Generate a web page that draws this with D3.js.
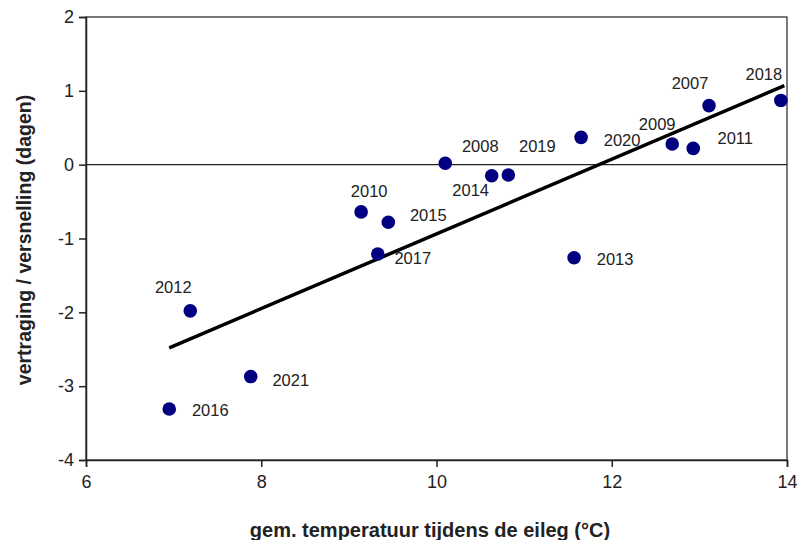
<!DOCTYPE html>
<html>
<head>
<meta charset="utf-8">
<script src="https://cdn.jsdelivr.net/npm/d3@7"></script>
<style>
  body { margin: 0; background: #fff; }
  text { font-family: "Liberation Sans", Arial, sans-serif; }
</style>
</head>
<body>
<svg id="chart"></svg>
<script>
// data
const years = ["2016", "2012", "2021", "2010", "2015", "2017", "2008", "2014",
  "2019", "2013", "2020", "2009", "2011", "2007", "2018"];
const temps = [6.95, 7.19, 7.88, 9.14, 9.45, 9.33, 10.10, 10.63,
  10.82, 11.57, 11.65, 12.69, 12.93, 13.11, 13.93];
const shifts = [-3.31, -1.98, -2.87, -0.64, -0.78, -1.21, 0.02, -0.15,
  -0.14, -1.26, 0.37, 0.28, 0.22, 0.80, 0.87];
const trendX = [6.95, 13.97];
const trendY = [-2.48, 1.07];
const xTicks = [6, 8, 10, 12, 14];
const yTicks = [2, 1, 0, -1, -2, -3, -4];

// where each year label sits relative to its dot (px)
const labelOffset = {
  "2016": [41, 1], "2012": [-17, -24], "2021": [40, 3], "2010": [8, -21],
  "2015": [40, -7], "2017": [35, 4], "2008": [35, -17], "2014": [-21, 14],
  "2019": [29, -29], "2013": [41, 1], "2020": [41, 3], "2009": [-15, -20],
  "2011": [42, -10], "2007": [-19, -23], "2018": [-17, -26]
};

const width = 800, height = 540;
const margin = {top: 17, right: 13, bottom: 80, left: 86};

const svg = d3.select("#chart").attr("width", width).attr("height", height);

const x = d3.scaleLinear().domain([6, 14]).range([margin.left, width - margin.right]);
const y = d3.scaleLinear().domain([-4, 2]).range([height - margin.bottom, margin.top]);

// box around the plot
svg.append("rect")
  .attr("x", x(6)).attr("y", y(2))
  .attr("width", x(14) - x(6)).attr("height", y(-4) - y(2))
  .attr("fill", "none").attr("stroke", "#222").attr("stroke-width", 1.2);

// zero line
svg.append("line")
  .attr("x1", x(6)).attr("x2", x(14))
  .attr("y1", y(0)).attr("y2", y(0))
  .attr("stroke", "#222").attr("stroke-width", 1.2);

const xAxis = svg.append("g")
  .attr("transform", "translate(0," + y(-4) + ")")
  .call(d3.axisBottom(x).tickValues(xTicks).tickFormat(d => String(d))
    .tickSize(7).tickPadding(8));
const yAxis = svg.append("g")
  .attr("transform", "translate(" + x(6) + ",0)")
  .call(d3.axisLeft(y).tickValues(yTicks).tickFormat(d => String(d))
    .tickSize(7).tickPadding(5));

[xAxis, yAxis].forEach(g => {
  g.select(".domain").attr("stroke", "#222").attr("stroke-width", 1.5);
  g.selectAll(".tick line").attr("stroke", "#222").attr("stroke-width", 1.5);
  g.selectAll(".tick text")
    .attr("fill", "#222")
    .style("font-size", "18px")
    .style("font-family", "'Liberation Sans', Arial, sans-serif");
});

// trend line
svg.append("line")
  .attr("x1", x(trendX[0])).attr("y1", y(trendY[0]))
  .attr("x2", x(trendX[1])).attr("y2", y(trendY[1]))
  .attr("stroke", "#000").attr("stroke-width", 3.5);

const points = years.map((yr, i) => ({year: yr, t: temps[i], s: shifts[i]}));

svg.append("g").selectAll("circle")
  .data(points)
  .enter()
  .append("circle")
  .attr("cx", d => x(d.t))
  .attr("cy", d => y(d.s))
  .attr("r", 6.8)
  .attr("fill", "#000080");

svg.append("g").selectAll("text")
  .data(points)
  .enter()
  .append("text")
  .attr("x", d => x(d.t) + labelOffset[d.year][0])
  .attr("y", d => y(d.s) + labelOffset[d.year][1])
  .attr("text-anchor", "middle")
  .attr("dominant-baseline", "central")
  .attr("fill", "#222")
  .style("font-size", "16.5px")
  .text(d => d.year);

// axis titles
svg.append("text")
  .attr("x", 430).attr("y", 530)
  .attr("text-anchor", "middle")
  .attr("dominant-baseline", "central")
  .attr("fill", "#222")
  .style("font-size", "20px")
  .style("font-weight", "bold")
  .text("gem. temperatuur tijdens de eileg (°C)");

svg.append("text")
  .attr("transform", "translate(24,240) rotate(-90)")
  .attr("text-anchor", "middle")
  .attr("dominant-baseline", "central")
  .attr("fill", "#222")
  .style("font-size", "19.5px")
  .style("font-weight", "bold")
  .text("vertraging / versnelling (dagen)");
</script>
</body>
</html>
